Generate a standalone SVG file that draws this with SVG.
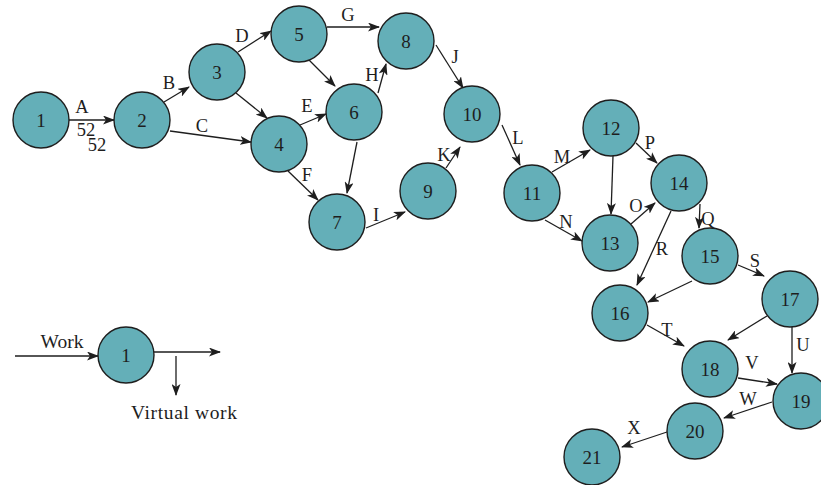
<svg xmlns="http://www.w3.org/2000/svg" width="821" height="485" viewBox="0 0 821 485">
  <defs>
    <marker id="arr" viewBox="0 0 12 9" refX="11" refY="4.5" markerWidth="12" markerHeight="9" markerUnits="userSpaceOnUse" orient="auto">
      <path d="M0,0 L12,4.5 L0,9 L3,4.5 z" fill="#1e1e1e"/>
    </marker>
    <style>
      .node circle { fill: #64afb8; stroke: #1e1e1e; stroke-width: 1.4; }
      .node text { font-family: "Liberation Serif", "DejaVu Serif", serif; font-size: 19px; fill: #1e1e1e; text-anchor: middle; dominant-baseline: central; }
      .edges line { stroke: #1e1e1e; stroke-width: 1.3; marker-end: url(#arr); }
      .lbl { font-family: "Liberation Serif", "DejaVu Serif", serif; font-size: 18.5px; fill: #1e1e1e; text-anchor: middle; }
      .legend { font-size: 19.5px; }
    </style>
  </defs>

  <g class="edges" id="connectors">
    <line x1="69" y1="120" x2="114" y2="120"/>
    <line x1="164" y1="102" x2="189" y2="87"/>
    <line x1="170" y1="131" x2="251" y2="142"/>
    <line x1="238" y1="52" x2="271" y2="31"/>
    <line x1="236" y1="93" x2="267" y2="118"/>
    <line x1="300" y1="125" x2="326" y2="114"/>
    <line x1="288" y1="171" x2="318" y2="200"/>
    <line x1="327" y1="27" x2="379" y2="27"/>
    <line x1="309" y1="60" x2="335" y2="86"/>
    <line x1="378" y1="93" x2="386" y2="64"/>
    <line x1="357" y1="142" x2="347" y2="193"/>
    <line x1="366" y1="228" x2="405" y2="212"/>
    <line x1="436" y1="45" x2="463" y2="88"/>
    <line x1="446" y1="168" x2="460" y2="147"/>
    <line x1="502" y1="125" x2="520" y2="165"/>
    <line x1="552" y1="172" x2="590" y2="150"/>
    <line x1="545" y1="220" x2="582" y2="241"/>
    <line x1="613" y1="156" x2="611" y2="214"/>
    <line x1="631" y1="224" x2="655" y2="203"/>
    <line x1="636" y1="143" x2="657" y2="163"/>
    <line x1="700" y1="204" x2="699" y2="228"/>
    <line x1="671" y1="211" x2="637" y2="285"/>
    <line x1="738" y1="265" x2="764" y2="276"/>
    <line x1="692" y1="281" x2="648" y2="302"/>
    <line x1="647" y1="325" x2="684" y2="346"/>
    <line x1="767" y1="316" x2="728" y2="340"/>
    <line x1="792" y1="327" x2="792" y2="373"/>
    <line x1="738" y1="378" x2="777" y2="384"/>
    <line x1="772" y1="402" x2="724" y2="418"/>
    <line x1="667" y1="432" x2="622" y2="447"/>
    <!-- legend arrows -->
    <line x1="15" y1="356" x2="98" y2="356"/>
    <line x1="154" y1="352" x2="220" y2="352"/>
    <line x1="176" y1="356" x2="176" y2="395"/>
  </g>

  <g id="edge-labels">
    <text class="lbl" x="82" y="113">A</text>
    <text class="lbl" x="86" y="136">52</text>
    <text class="lbl" x="97" y="151">52</text>
    <text class="lbl" x="169" y="89">B</text>
    <text class="lbl" x="202" y="132">C</text>
    <text class="lbl" x="242" y="42">D</text>
    <text class="lbl" x="307" y="112">E</text>
    <text class="lbl" x="307" y="181">F</text>
    <text class="lbl" x="348" y="21">G</text>
    <text class="lbl" x="372" y="81">H</text>
    <text class="lbl" x="376" y="221">I</text>
    <text class="lbl" x="455" y="63">J</text>
    <text class="lbl" x="444" y="161">K</text>
    <text class="lbl" x="518" y="144">L</text>
    <text class="lbl" x="562" y="163">M</text>
    <text class="lbl" x="566" y="228">N</text>
    <text class="lbl" x="636" y="212">O</text>
    <text class="lbl" x="650" y="149">P</text>
    <text class="lbl" x="708" y="225">Q</text>
    <text class="lbl" x="662" y="255">R</text>
    <text class="lbl" x="755" y="267">S</text>
    <text class="lbl" x="667" y="336">T</text>
    <text class="lbl" x="803" y="351">U</text>
    <text class="lbl" x="752" y="369">V</text>
    <text class="lbl" x="748" y="405">W</text>
    <text class="lbl" x="634" y="434">X</text>
    <text class="lbl legend" x="62" y="348">Work</text>
    <text class="lbl legend" x="184" y="419" textLength="106" lengthAdjust="spacing">Virtual work</text>
  </g>

  <g class="node" id="n1"><circle cx="41" cy="120" r="28"/><text x="41" y="120">1</text></g>
  <g class="node" id="n2"><circle cx="142" cy="120" r="28"/><text x="142" y="120">2</text></g>
  <g class="node" id="n3"><circle cx="217" cy="72" r="28"/><text x="217" y="72">3</text></g>
  <g class="node" id="n4"><circle cx="279" cy="144" r="28"/><text x="279" y="144">4</text></g>
  <g class="node" id="n5"><circle cx="299" cy="34" r="28"/><text x="299" y="34">5</text></g>
  <g class="node" id="n6"><circle cx="354" cy="112" r="28"/><text x="354" y="112">6</text></g>
  <g class="node" id="n7"><circle cx="337" cy="222" r="28"/><text x="337" y="222">7</text></g>
  <g class="node" id="n8"><circle cx="406" cy="41" r="28"/><text x="406" y="41">8</text></g>
  <g class="node" id="n9"><circle cx="428" cy="191" r="28"/><text x="428" y="191">9</text></g>
  <g class="node" id="n10"><circle cx="472" cy="114" r="28"/><text x="472" y="114">10</text></g>
  <g class="node" id="n11"><circle cx="532" cy="193" r="28"/><text x="532" y="193">11</text></g>
  <g class="node" id="n12"><circle cx="611" cy="128" r="28"/><text x="611" y="128">12</text></g>
  <g class="node" id="n13"><circle cx="610" cy="243" r="28"/><text x="610" y="243">13</text></g>
  <g class="node" id="n14"><circle cx="679" cy="183" r="28"/><text x="679" y="183">14</text></g>
  <g class="node" id="n15"><circle cx="710" cy="256" r="28"/><text x="710" y="256">15</text></g>
  <g class="node" id="n16"><circle cx="620" cy="313" r="28"/><text x="620" y="313">16</text></g>
  <g class="node" id="n17"><circle cx="790" cy="299" r="28"/><text x="790" y="299">17</text></g>
  <g class="node" id="n18"><circle cx="710" cy="369" r="28"/><text x="710" y="369">18</text></g>
  <g class="node" id="n19"><circle cx="801" cy="401" r="28"/><text x="801" y="401">19</text></g>
  <g class="node" id="n20"><circle cx="695" cy="431" r="28"/><text x="695" y="431">20</text></g>
  <g class="node" id="n21"><circle cx="592" cy="457" r="28"/><text x="592" y="457">21</text></g>
  <g class="node" id="legend-node"><circle cx="126" cy="355" r="28"/><text x="126" y="355">1</text></g>
</svg>
